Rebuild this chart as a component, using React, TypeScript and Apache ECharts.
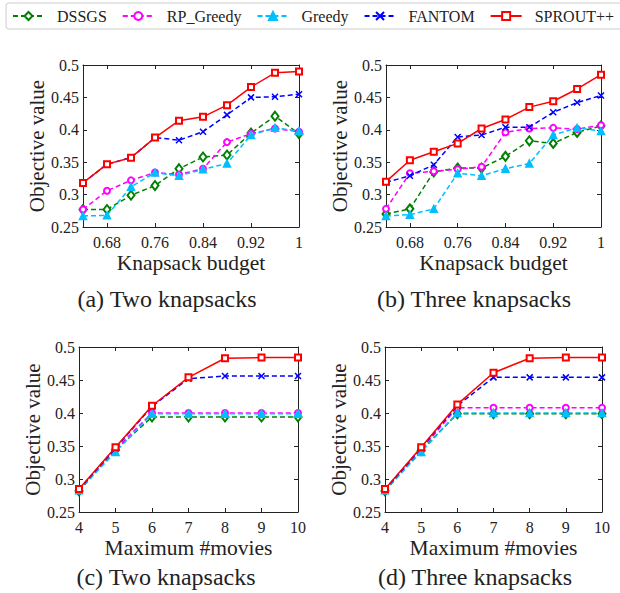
import React, { useEffect, useRef } from 'react';
import * as echarts from 'echarts';

// ---------- data ----------
const methods = ['DSSGS', 'RP_Greedy', 'Greedy', 'FANTOM', 'SPROUT++'];
const budgets = [0.64, 0.68, 0.72, 0.76, 0.8, 0.84, 0.88, 0.92, 0.96, 1.0];
const budgetTicks = [0.68, 0.76, 0.84, 0.92, 1];
const movies = [4, 5, 6, 7, 8, 9, 10];

// (a) Two knapsacks vs knapsack budget
const aDSSGS = [0.277, 0.277, 0.299, 0.314, 0.34, 0.358, 0.361, 0.395, 0.421, 0.394];
const aRP = [0.277, 0.306, 0.322, 0.334, 0.331, 0.34, 0.381, 0.394, 0.402, 0.397];
const aGreedy = [0.267, 0.268, 0.312, 0.334, 0.329, 0.339, 0.348, 0.392, 0.403, 0.398];
const aFANTOM = [0.318, 0.347, 0.357, 0.388, 0.384, 0.397, 0.423, 0.45, 0.451, 0.455];
const aSPROUT = [0.318, 0.347, 0.357, 0.388, 0.414, 0.42, 0.438, 0.466, 0.488, 0.49];

// (b) Three knapsacks vs knapsack budget
const bDSSGS = [0.27, 0.278, 0.335, 0.341, 0.341, 0.359, 0.383, 0.379, 0.396, 0.406];
const bRP = [0.278, 0.333, 0.336, 0.339, 0.343, 0.396, 0.402, 0.403, 0.401, 0.407];
const bGreedy = [0.267, 0.269, 0.278, 0.333, 0.329, 0.34, 0.348, 0.392, 0.403, 0.398];
const bFANTOM = [0.319, 0.329, 0.346, 0.389, 0.392, 0.404, 0.404, 0.427, 0.442, 0.453];
const bSPROUT = [0.32, 0.353, 0.366, 0.379, 0.402, 0.416, 0.435, 0.444, 0.463, 0.485];

// (c) Two knapsacks vs maximum #movies
const cDSSGS = [0.282, 0.344, 0.394, 0.394, 0.394, 0.394, 0.394];
const cRP = [0.283, 0.345, 0.4, 0.4, 0.4, 0.4, 0.4];
const cGreedy = [0.283, 0.341, 0.399, 0.399, 0.399, 0.399, 0.399];
const cFANTOM = [0.284, 0.347, 0.41, 0.452, 0.456, 0.456, 0.456];
const cSPROUT = [0.285, 0.348, 0.411, 0.454, 0.483, 0.484, 0.484];

// (d) Three knapsacks vs maximum #movies
const dDSSGS = [0.282, 0.343, 0.399, 0.399, 0.399, 0.399, 0.399];
const dRP = [0.283, 0.345, 0.408, 0.408, 0.408, 0.408, 0.408];
const dGreedy = [0.283, 0.341, 0.4, 0.4, 0.4, 0.4, 0.4];
const dFANTOM = [0.284, 0.347, 0.411, 0.454, 0.454, 0.454, 0.454];
const dSPROUT = [0.285, 0.348, 0.413, 0.461, 0.483, 0.484, 0.484];

const xNames = ['Knapsack budget', 'Knapsack budget', 'Maximum #movies', 'Maximum #movies'];
const captions = ['(a) Two knapsacks', '(b) Three knapsacks', '(c) Two knapsacks', '(d) Three knapsacks'];
const yName = 'Objective value';

// ---------- styles ----------
const FONT = 'Liberation Serif';
const TXT = '#222222';
const methodStyles = [
  { color: '#008000', symbol: 'emptyDiamond', size: [7, 9], dashed: true },
  { color: '#ff00ff', symbol: 'emptyCircle', size: 6, dashed: true },
  { color: '#00bfff', symbol: 'triangle', size: 7, dashed: true },
  { color: '#0000ff', symbol: 'path://M0,0L10,10M10,0L0,10', size: 6, dashed: true },
  { color: '#ff0000', symbol: 'emptyRect', size: 6, dashed: false },
];
const grids = [
  { left: 83, top: 65, width: 216, height: 162 },
  { left: 386, top: 65, width: 215, height: 162 },
  { left: 79, top: 347, width: 219, height: 165 },
  { left: 385, top: 347, width: 217, height: 165 },
];
const captionPos = [
  [167, 299],
  [474, 299],
  [166, 577],
  [475, 577],
];

export default function App() {
  const ref = useRef<HTMLDivElement>(null);
  useEffect(() => {
    document.body.style.margin = '0';
    if (!ref.current) return;
    const chart = echarts.init(ref.current, undefined, { renderer: 'svg' });

    const panels = [
      { xs: budgets, vals: [aDSSGS, aRP, aGreedy, aFANTOM, aSPROUT], budget: true },
      { xs: budgets, vals: [bDSSGS, bRP, bGreedy, bFANTOM, bSPROUT], budget: true },
      { xs: movies, vals: [cDSSGS, cRP, cGreedy, cFANTOM, cSPROUT], budget: false },
      { xs: movies, vals: [dDSSGS, dRP, dGreedy, dFANTOM, dSPROUT], budget: false },
    ];

    const axisLine = { onZero: false, lineStyle: { color: TXT, width: 1 } };
    const xAxes: any[] = [];
    const yAxes: any[] = [];
    const series: any[] = [];

    const xBase = (p: number) => {
      const b = panels[p].budget;
      return {
        type: 'value',
        gridIndex: p,
        min: b ? 0.64 : 4,
        max: b ? 1 : 10,
        interval: b ? 0.04 : 1,
        splitLine: { show: false },
        axisLine,
      };
    };

    panels.forEach((pn, p) => {
      const b = pn.budget;
      xAxes.push({
        ...xBase(p),
        position: 'bottom',
        axisTick: { inside: true, length: 4, lineStyle: { color: TXT }, ...(b ? { customValues: budgetTicks } : {}) },
        axisLabel: {
          margin: 7,
          fontSize: 16,
          fontFamily: FONT,
          color: TXT,
          formatter: (v: number) => String(+v.toFixed(2)),
          ...(b ? { customValues: budgetTicks } : {}),
        },
        name: xNames[p],
        nameLocation: 'middle',
        nameGap: 25,
        nameTextStyle: { fontSize: 21.5, fontFamily: FONT, color: TXT },
      });
      yAxes.push({
        type: 'value',
        gridIndex: p,
        min: 0.25,
        max: 0.5,
        interval: 0.05,
        position: 'left',
        splitLine: { show: false },
        axisLine,
        axisTick: { inside: true, length: 4, lineStyle: { color: TXT } },
        axisLabel: { margin: 4, fontSize: 16, fontFamily: FONT, color: TXT },
        name: yName,
        nameLocation: 'middle',
        nameGap: 32,
        nameTextStyle: { fontSize: 21, fontFamily: FONT, color: TXT },
      });
    });
    panels.forEach((pn, p) => {
      const b = pn.budget;
      xAxes.push({
        ...xBase(p),
        position: 'top',
        axisTick: { inside: true, length: 4, lineStyle: { color: TXT }, ...(b ? { customValues: budgetTicks } : {}) },
        axisLabel: { show: false },
      });
      yAxes.push({
        type: 'value',
        gridIndex: p,
        min: 0.25,
        max: 0.5,
        interval: 0.05,
        position: 'right',
        splitLine: { show: false },
        axisLine,
        axisTick: { inside: true, length: 4, lineStyle: { color: TXT } },
        axisLabel: { show: false },
      });
    });

    panels.forEach((pn, p) => {
      methods.forEach((m, i) => {
        const st = methodStyles[i];
        series.push({
          type: 'line',
          name: m,
          xAxisIndex: p,
          yAxisIndex: p,
          data: pn.xs.map((x, j) => [x, pn.vals[i][j]]),
          symbol: st.symbol,
          symbolSize: st.size,
          showSymbol: true,
          color: st.color,
          itemStyle: { color: st.color, borderColor: st.color, borderWidth: 1.5 },
          lineStyle: { color: st.color, width: 1.5, type: st.dashed ? [5, 3] : 'solid' },
          z: 2 + i,
        });
      });
    });

    chart.setOption({
      animation: false,
      backgroundColor: '#ffffff',
      grid: grids.map((g) => ({ ...g, containLabel: false })),
      xAxis: xAxes,
      yAxis: yAxes,
      series,
      legend: {
        data: methods,
        left: 6,
        top: 3,
        width: 612,
        padding: [5, 8, 5, 6],
        itemWidth: 31,
        itemHeight: 10,
        itemGap: 15,
        borderColor: '#cccccc',
        borderWidth: 1,
        borderRadius: 3,
        textStyle: { fontSize: 16, fontFamily: FONT, color: TXT, padding: [0, 0, 0, 8] },
      },
      graphic: captions.map((c, k) => ({
        type: 'text',
        x: captionPos[k][0],
        y: captionPos[k][1],
        style: {
          text: c,
          fontSize: 24,
          fontFamily: FONT,
          fill: TXT,
          textAlign: 'center',
          textVerticalAlign: 'middle',
        },
      })),
    });
    return () => chart.dispose();
  }, []);
  return <div ref={ref} style={{ width: 620, height: 593 }} />;
}
